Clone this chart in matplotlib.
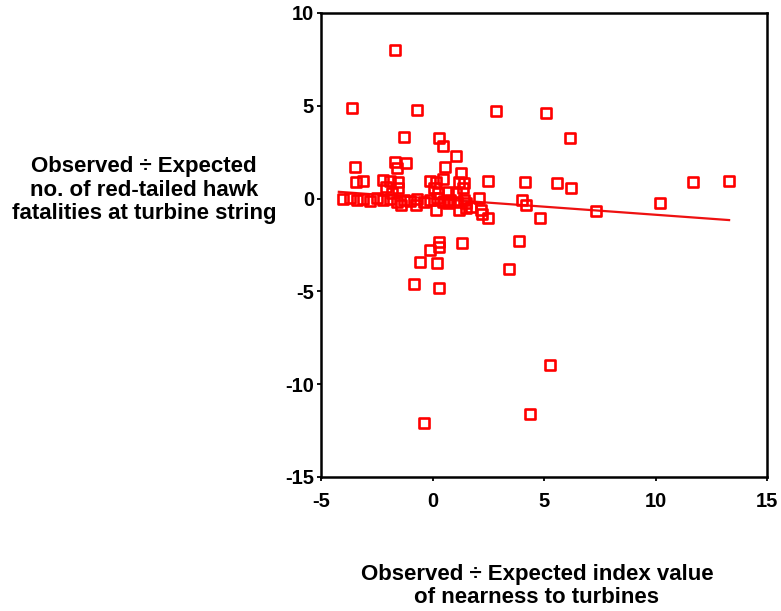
import numpy as np
import matplotlib
matplotlib.use("Agg")
import matplotlib.pyplot as plt

plt.rcParams['font.family'] = ['Liberation Sans', 'DejaVu Sans']
plt.rcParams['axes.unicode_minus'] = False

# Observed / Expected nearness index (x) vs Observed / Expected fatalities (y)
x_vals = [
    -1.66, -3.6, -0.69, 2.83, 5.11, 6.17, -1.3, 0.28, 0.49, 1.07,
    -3.49, -1.66, -1.19, -1.6, 0.54, 1.29, 2.48, 4.14, 5.57, 6.19,
    10.2, 11.7, 13.3, 7.31, 4.84, 2.5, 3.87, 1.31, 0.27, 0.27,
    -0.13, 3.41, 0.19, -0.58, -0.81, 0.27, 5.26, 4.39, -0.36,
    -3.45, -3.12, -2.22, -1.92, -1.55, -0.13, 0.16, 0.46, 1.18, 1.43,
    1.35, 0.09, -1.55, 0.69, 0.24, 1.05, -2.1, -1.8,
    -4.0, -3.7, -3.4, -3.1, -2.8, -2.5, -2.2, -1.9, -1.6, -1.3,
    -1.0, -0.7, -0.4, -0.1, 0.2, 0.5, 0.8, 1.1, 1.4,
    -1.4, -0.73, 0.16, 0.69, 1.21, 1.51, 1.72, 2.1, 2.18, 2.2,
    4.0, 4.2, 0.45, 0.76, 1.51,
]
y_vals = [
    8.0, 4.9, 4.77, 4.72, 4.6, 3.25, 3.34, 3.25, 2.83, 2.3,
    1.72, 1.98, 1.93, 1.66, 1.72, 1.36, 0.95, 0.88, 0.85, 0.56,
    -0.23, 0.89, 0.95, -0.67, -1.05, -1.02, -2.28, -2.37, -2.32, -2.62,
    -2.77, -3.8, -3.49, -3.4, -4.58, -4.8, -8.98, -11.59, -12.1,
    0.92, 0.95, 1.0, 0.95, 0.91, 0.95, 0.91, 1.04, 0.91, 0.82,
    0.55, 0.55, 0.55, 0.37, 0.28, 0.28, 0.6, 0.3,
    -0.04, 0.05, -0.1, 0.0, -0.15, 0.05, -0.1, 0.0, -0.2, -0.05,
    -0.15, 0.0, -0.2, -0.1, 0.05, -0.15, -0.05, -0.2, -0.1,
    -0.34, -0.34, -0.61, -0.25, -0.61, -0.52, -0.43, 0.02, -0.61, -0.85,
    -0.07, -0.34, -0.16, -0.16, -0.25,
]

# fitted regression line
fit_intercept = 0.0
fit_slope = -0.087
fit_x = [-4.2, 13.3]

fig = plt.figure(figsize=(7.81, 6.11), dpi=100)
ax = fig.add_axes([321 / 781, 1 - 477 / 611, (767 - 321) / 781, (477 - 13) / 611])

ax.scatter(x_vals, y_vals, marker='s', s=52, facecolors='none',
           edgecolors='#ff0000', linewidths=1.9, zorder=3)
fx = np.array(fit_x)
ax.plot(fx, fit_intercept + fit_slope * fx, color='#ee1111', lw=1.6, zorder=2)

ax.set_xlim(-5, 15)
ax.set_ylim(-15, 10)
ax.set_xticks([-5, 0, 5, 10, 15])
ax.set_yticks([-15, -10, -5, 0, 5, 10])
ax.tick_params(direction='out', length=3, width=1.3, labelsize=14.5, pad=2)
ax.tick_params(axis='x', pad=8)
for lab in ax.get_xticklabels() + ax.get_yticklabels():
    lab.set_fontweight('bold')
for sp in ax.spines.values():
    sp.set_linewidth(1.8)

fig.text(144 / 781, 1 - 190 / 611,
         "Observed \u00f7 Expected\nno. of red-tailed hawk\nfatalities at turbine string",
         ha='center', va='center', fontsize=16, fontweight='bold', linespacing=1.15)
fig.text(537 / 781, 1 - 586 / 611,
         "Observed \u00f7 Expected index value\nof nearness to turbines",
         ha='center', va='center', fontsize=16, fontweight='bold', linespacing=1.1)

fig.savefig("out.png", dpi=100)
